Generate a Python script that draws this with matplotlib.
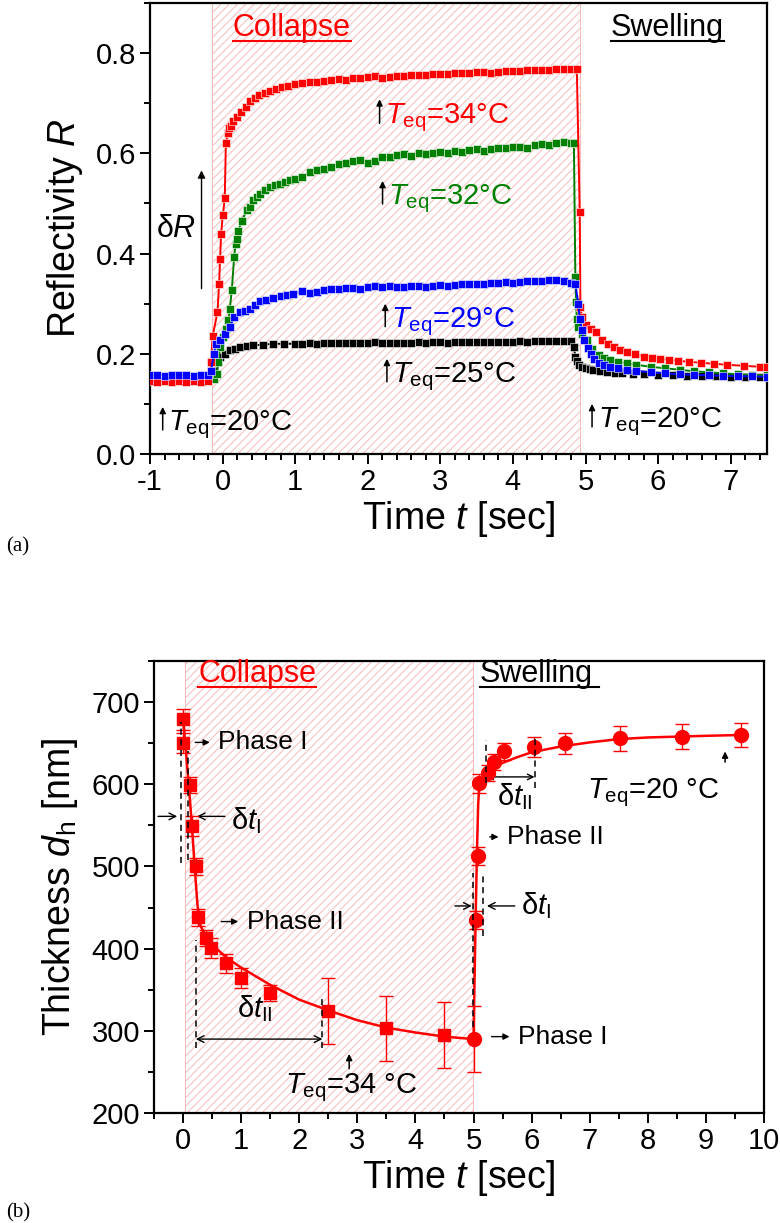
import numpy as np
import matplotlib.pyplot as plt
from matplotlib.lines import Line2D
from matplotlib.ticker import MultipleLocator

plt.rcParams['font.family'] = ['Liberation Sans', 'DejaVu Sans']
plt.rcParams['mathtext.fontset'] = 'custom'
plt.rcParams['mathtext.rm'] = 'Liberation Sans'
plt.rcParams['mathtext.it'] = 'Liberation Sans:italic'
plt.rcParams['axes.unicode_minus'] = False
plt.rcParams['hatch.linewidth'] = 0.7

# ---------------- panel (a): reflectivity ----------------
t_pre = [-1.0, -0.9, -0.8, -0.7, -0.6, -0.5, -0.4, -0.3, -0.2]
t_plat = [1.1, 1.2, 1.3, 1.4, 1.5, 1.6, 1.7, 1.8, 1.9, 2.0,
          2.1, 2.2, 2.3, 2.4, 2.5, 2.6, 2.7, 2.8, 2.9, 3.0,
          3.1, 3.2, 3.3, 3.4, 3.5, 3.6, 3.7, 3.8, 3.9, 4.0,
          4.1, 4.2, 4.3, 4.4, 4.5, 4.6, 4.7, 4.8]

# 34 C (red)
red_pre = [0.145, 0.144, 0.145, 0.144, 0.145, 0.144, 0.145, 0.144, 0.145]
red_rise_t = [-0.16, -0.136, -0.07, -0.048, -0.034, -0.02, 0.003, 0.03, 0.045, 0.07, 0.09, 0.11,
              0.15, 0.2, 0.26, 0.32, 0.38, 0.44, 0.5, 0.58, 0.66, 0.74, 0.82, 0.9, 1.0]
red_rise = [0.184, 0.236, 0.283, 0.34, 0.39, 0.44, 0.476, 0.51, 0.62, 0.64, 0.65, 0.655,
            0.664, 0.672, 0.682, 0.693, 0.705, 0.71, 0.716, 0.72, 0.725, 0.728, 0.732, 0.735, 0.738]
red_plat = [0.740, 0.743, 0.742, 0.745, 0.746, 0.748, 0.747, 0.750, 0.750, 0.752,
            0.754, 0.751, 0.753, 0.755, 0.755, 0.756, 0.757, 0.756, 0.758, 0.759,
            0.759, 0.760, 0.760, 0.761, 0.762, 0.762, 0.761, 0.763, 0.764, 0.764,
            0.765, 0.766, 0.766, 0.767, 0.767, 0.768, 0.768, 0.769]
red_drop_t = [4.88, 4.92, 4.93, 4.95, 5.0, 5.07, 5.14, 5.23, 5.31, 5.39, 5.48, 5.57, 5.68, 5.8,
              5.91, 6.03, 6.15, 6.27, 6.43, 6.59, 6.77, 6.95, 7.18, 7.41, 7.5]
red_drop = [0.769, 0.483, 0.293, 0.273, 0.257, 0.25, 0.244, 0.227, 0.22, 0.214, 0.208, 0.204, 0.199, 0.194,
            0.192, 0.19, 0.188, 0.186, 0.184, 0.182, 0.18, 0.178, 0.176, 0.174, 0.173]

# 32 C (green)
green_pre = [0.150, 0.150, 0.149, 0.150, 0.150, 0.149, 0.150, 0.150, 0.150]
green_rise_t = [-0.12, -0.08, -0.058, -0.034, 0.003, 0.048, 0.08, 0.10, 0.127, 0.159, 0.18, 0.195, 0.218,
                0.265, 0.334, 0.38, 0.425, 0.47, 0.517, 0.58, 0.655, 0.72, 0.79, 0.86, 0.93, 1.0]
green_rise = [0.15, 0.16, 0.184, 0.214, 0.234, 0.25, 0.267, 0.29, 0.327, 0.393, 0.42, 0.43, 0.446,
              0.466, 0.486, 0.493, 0.506, 0.512, 0.519, 0.526, 0.532, 0.536, 0.539, 0.542, 0.546, 0.548]
green_plat = [0.552, 0.563, 0.566, 0.569, 0.572, 0.578, 0.581, 0.585, 0.586, 0.581,
              0.585, 0.593, 0.592, 0.596, 0.598, 0.595, 0.600, 0.598, 0.601, 0.602,
              0.600, 0.604, 0.603, 0.607, 0.608, 0.605, 0.609, 0.611, 0.610, 0.612,
              0.613, 0.611, 0.616, 0.618, 0.617, 0.621, 0.622, 0.620]
green_drop_t = [4.84, 4.86, 4.87, 4.88, 4.9, 4.95, 5.02, 5.09, 5.18, 5.26, 5.34, 5.45, 5.57, 5.7,
                5.9, 6.1, 6.3, 6.5, 6.7, 6.9, 7.1, 7.3, 7.5]
green_drop = [0.621, 0.353, 0.303, 0.27, 0.254, 0.239, 0.227, 0.21, 0.197, 0.192, 0.187, 0.184, 0.181, 0.178,
              0.174, 0.171, 0.168, 0.165, 0.163, 0.161, 0.159, 0.158, 0.157]

# 29 C (blue)
blue_pre = [0.157, 0.157, 0.156, 0.157, 0.157, 0.157, 0.156, 0.157, 0.157]
blue_rise_t = [-0.16, -0.12, -0.09, -0.034, 0.034, 0.1, 0.163, 0.24, 0.31, 0.38, 0.45, 0.517,
               0.6, 0.7, 0.8, 0.885, 0.97]
blue_rise = [0.165, 0.2, 0.22, 0.227, 0.24, 0.254, 0.273, 0.283, 0.286, 0.29, 0.298, 0.305,
             0.308, 0.312, 0.315, 0.318, 0.32]
blue_plat = [0.325, 0.322, 0.324, 0.327, 0.330, 0.329, 0.331, 0.332, 0.330, 0.333,
             0.335, 0.334, 0.335, 0.333, 0.333, 0.335, 0.336, 0.334, 0.336, 0.337,
             0.336, 0.338, 0.339, 0.340, 0.340, 0.339, 0.341, 0.342, 0.343, 0.342,
             0.344, 0.345, 0.346, 0.346, 0.347, 0.347, 0.345, 0.342]
blue_drop_t = [4.86, 4.9, 4.92, 4.95, 4.98, 5.03, 5.07, 5.12, 5.18, 5.26, 5.34, 5.45, 5.57, 5.7,
               5.9, 6.1, 6.3, 6.5, 6.7, 6.9, 7.1, 7.3, 7.5]
blue_drop = [0.34, 0.3, 0.27, 0.247, 0.227, 0.212, 0.2, 0.19, 0.181, 0.177, 0.174, 0.171, 0.168, 0.166,
             0.163, 0.161, 0.159, 0.158, 0.157, 0.156, 0.155, 0.155, 0.154]

# 25 C (black)
black_pre = [0.151, 0.151, 0.150, 0.151, 0.151, 0.150, 0.151, 0.151, 0.151]
black_rise_t = [-0.16, -0.12, -0.08, -0.034, 0.034, 0.1, 0.17, 0.24, 0.33, 0.425, 0.55, 0.7, 0.85, 1.0]
black_rise = [0.155, 0.165, 0.184, 0.194, 0.2, 0.207, 0.21, 0.214, 0.215, 0.217, 0.218, 0.22, 0.22, 0.22]
black_plat = [0.220, 0.221, 0.220, 0.221, 0.221, 0.222, 0.221, 0.221, 0.222, 0.222,
              0.223, 0.222, 0.222, 0.221, 0.222, 0.222, 0.223, 0.222, 0.223, 0.223,
              0.222, 0.223, 0.224, 0.223, 0.223, 0.224, 0.224, 0.223, 0.224, 0.224,
              0.225, 0.224, 0.225, 0.225, 0.225, 0.226, 0.225, 0.226]
black_drop_t = [4.84, 4.86, 4.88, 4.91, 4.95, 5.0, 5.06, 5.11, 5.2, 5.3, 5.4, 5.5, 5.65, 5.8,
                6.0, 6.2, 6.4, 6.6, 6.8, 7.0, 7.2, 7.4, 7.5]
black_drop = [0.214, 0.194, 0.185, 0.178, 0.174, 0.171, 0.169, 0.167, 0.165, 0.164, 0.162, 0.161, 0.16, 0.159,
              0.158, 0.157, 0.156, 0.155, 0.155, 0.154, 0.154, 0.153, 0.153]

# ---------------- panel (b): thickness ----------------
t_col = [0.0, 0.0, 0.12, 0.16, 0.22, 0.25, 0.40, 0.49, 0.74, 1.0, 1.49, 2.49, 3.5, 4.5]
d_col = [679, 650, 599, 549, 500, 438, 413, 401, 382, 364, 346, 324, 303, 295]
e_col = [13, 12, 10, 12, 10, 10, 10, 12, 12, 12, 10, 40, 40, 40]

t_sw = [5.0, 5.05, 5.07, 5.1, 5.25, 5.36, 5.52, 6.04, 6.58, 7.52, 8.58, 9.6]
d_sw = [290, 435, 513, 601, 614, 627, 640, 645, 650, 656, 658, 660]
e_sw = [40, 11, 11, 12, 10, 10, 10, 12, 13, 15, 15, 14]

fit_t_col = [0.0, 0.05, 0.1, 0.15, 0.2, 0.25, 0.3, 0.4, 0.5, 0.75, 1.0, 1.5, 2.0, 2.5, 3.0, 3.5, 4.0, 4.5, 5.0]
fit_d_col = [680, 640, 598, 553, 500, 452, 428, 414, 405, 389, 377, 356, 338, 325, 313, 304, 298, 293, 290]
fit_t_sw = [5.0, 5.02, 5.04, 5.06, 5.08, 5.1, 5.15, 5.2, 5.3, 5.4, 5.5, 5.75, 6.0, 6.5, 7.0, 7.5, 8.0, 8.5, 9.0, 9.6]
fit_d_sw = [290, 370, 450, 520, 575, 600, 607, 611, 617, 622, 626, 633, 639, 646, 651, 655, 657, 658, 659, 660]

RED = '#ff0000'
GREEN = '#008000'
BLUE = '#0000ff'
HATCH = '#f5bcbc'

fig = plt.figure(figsize=(7.8, 12.23), dpi=100)
ax1 = fig.add_axes([0.1923, 0.6288, 0.7910, 0.3687])
ax2 = fig.add_axes([0.1974, 0.0899, 0.7821, 0.3696])


def style_axes(ax):
    for s in ax.spines.values():
        s.set_linewidth(1.6)
    ax.tick_params(which='both', direction='out', width=1.4, labelsize=21, top=False, right=False)
    ax.tick_params(which='major', length=7, pad=3)
    ax.tick_params(which='minor', length=4)


def teq(ax, x, y, label, color, dy, fs=21):
    ax.annotate('', xy=(x, y + dy), xytext=(x, y),
                arrowprops=dict(arrowstyle='-|>', color='k', lw=1.1, mutation_scale=9, shrinkA=0, shrinkB=0))
    ax.annotate(label, xy=(x, y), xytext=(4, 0), textcoords='offset points',
                color=color, fontsize=fs, ha='left', va='baseline')


def arrow(ax, x0, x1, y, style='->', ms=12):
    ax.annotate('', xy=(x1, y), xytext=(x0, y),
                arrowprops=dict(arrowstyle=style, color='k', lw=1.0, mutation_scale=ms, shrinkA=0, shrinkB=0))


# ----- panel (a)
ax1.axvspan(-0.15, 4.93, facecolor='none', edgecolor=HATCH, hatch='////', lw=0.8, zorder=0)
curves = [
    (black_pre, black_rise_t, black_rise, black_plat, black_drop_t, black_drop, 'k'),
    (green_pre, green_rise_t, green_rise, green_plat, green_drop_t, green_drop, GREEN),
    (red_pre, red_rise_t, red_rise, red_plat, red_drop_t, red_drop, RED),
    (blue_pre, blue_rise_t, blue_rise, blue_plat, blue_drop_t, blue_drop, BLUE),
]
for pre, rt, rv, pv, dt, dv, c in curves:
    tt = t_pre + rt + t_plat + dt
    rr = pre + rv + pv + dv
    ax1.plot(tt, rr, color=c, lw=1.4, marker='s', ms=6, mec='white', mew=0.4, mfc=c, zorder=3)

ax1.set_xlim(-1, 7.5)
ax1.set_ylim(0, 0.9)
ax1.xaxis.set_major_locator(MultipleLocator(1))
ax1.xaxis.set_minor_locator(MultipleLocator(0.2))
ax1.yaxis.set_major_locator(MultipleLocator(0.2))
ax1.yaxis.set_minor_locator(MultipleLocator(0.1))
style_axes(ax1)
ax1.set_xlabel('Time $t$ [sec]', fontsize=27, labelpad=2)
ax1.set_ylabel('Reflectivity $R$', fontsize=27, labelpad=8)

c1 = ax1.text(0.95, 0.835, 'Collapse', color=RED, fontsize=22, ha='center', va='baseline')
s1 = ax1.text(6.13, 0.835, 'Swelling', color='k', fontsize=22, ha='center', va='baseline')

teq(ax1, 2.163, 0.66, '$T_{\\mathrm{eq}}$=34°C', RED, 0.048)
teq(ax1, 2.204, 0.499, '$T_{\\mathrm{eq}}$=32°C', GREEN, 0.046)
teq(ax1, 2.241, 0.254, '$T_{\\mathrm{eq}}$=29°C', BLUE, 0.046)
teq(ax1, 2.264, 0.144, '$T_{\\mathrm{eq}}$=25°C', 'k', 0.046)
teq(ax1, -0.825, 0.048, '$T_{\\mathrm{eq}}$=20°C', 'k', 0.046)
teq(ax1, 5.09, 0.054, '$T_{\\mathrm{eq}}$=20°C', 'k', 0.046)

ax1.annotate('', xy=(-0.29, 0.566), xytext=(-0.29, 0.33),
             arrowprops=dict(arrowstyle='-|>', color='k', lw=1.0, mutation_scale=11, shrinkA=0, shrinkB=0))
ax1.text(-0.64, 0.45, 'δ$R$', fontsize=22, ha='center', va='center')

# ----- panel (b)
ax2.axvspan(0.03, 4.99, ymax=1, facecolor='none', edgecolor=HATCH, hatch='////', lw=0.8, zorder=0)
ax2.plot(fit_t_col, fit_d_col, color=RED, lw=1.8, zorder=3)
ax2.plot(fit_t_sw, fit_d_sw, color=RED, lw=1.8, zorder=3)
ax2.errorbar(t_col, d_col, yerr=e_col, fmt='s', color=RED, ms=8.5, capsize=5, elinewidth=1.0,
             capthick=1.0, zorder=4)
ax2.errorbar(t_sw, d_sw, yerr=e_sw, fmt='o', color=RED, ms=10, capsize=5, elinewidth=1.0,
             capthick=1.0, zorder=4)

ax2.set_xlim(-0.5, 10)
ax2.set_ylim(200, 750)
ax2.xaxis.set_major_locator(MultipleLocator(1))
ax2.xaxis.set_minor_locator(MultipleLocator(0.5))
ax2.yaxis.set_major_locator(MultipleLocator(100))
ax2.yaxis.set_minor_locator(MultipleLocator(50))
style_axes(ax2)
ax2.set_xlabel('Time $t$ [sec]', fontsize=27, labelpad=2)
ax2.set_ylabel('Thickness $d_{\\mathrm{h}}$ [nm]', fontsize=27, labelpad=8)

c2 = ax2.text(1.28, 724, 'Collapse', color=RED, fontsize=22, ha='center', va='baseline')
s2 = ax2.text(6.08, 724, 'Swelling', color='k', fontsize=22, ha='center', va='baseline')

# dashed guides
dash = dict(color='k', lw=1.1, ls=(0, (4, 3)), zorder=5)
ax2.plot([-0.04, -0.04], [504, 676], **dash)
ax2.plot([0.09, 0.09], [508, 641], **dash)
ax2.plot([0.22, 0.22], [279, 410], **dash)
ax2.plot([2.4, 2.4], [279, 339], **dash)
ax2.plot([4.99, 4.99], [305, 492], **dash)
ax2.plot([5.16, 5.16], [415, 492], **dash)
ax2.plot([5.22, 5.22], [601, 654], **dash)
ax2.plot([6.05, 6.05], [595, 658], **dash)

# delta t arrows
arrow(ax2, -0.43, -0.10, 561)
arrow(ax2, 0.72, 0.24, 561)
ax2.text(0.82, 556, 'δ$t_{\\mathrm{I}}$', fontsize=21, ha='left', va='center')
arrow(ax2, 0.22, 2.4, 290, style='<->')
ax2.text(1.23, 327, 'δ$t_{\\mathrm{II}}$', fontsize=21, ha='center', va='center')
arrow(ax2, 4.68, 4.97, 452)
arrow(ax2, 5.71, 5.23, 452)
ax2.text(5.81, 452, 'δ$t_{\\mathrm{I}}$', fontsize=21, ha='left', va='center')
arrow(ax2, 5.22, 6.05, 609, style='<->', ms=10)
ax2.text(5.71, 585, 'δ$t_{\\mathrm{II}}$', fontsize=21, ha='center', va='center')

# phase labels
for x0, x1, y, lab in [(0.21, 0.46, 651, 'Phase I'), (0.66, 0.95, 433, 'Phase II'),
                       (5.28, 5.43, 536, 'Phase II'), (5.31, 5.62, 293, 'Phase I')]:
    arrow(ax2, x0, x1, y, style='-|>', ms=9)
    ax2.annotate(lab, xy=(x1, y), xytext=(6, 0), textcoords='offset points',
                 fontsize=19, ha='left', va='center')

teq(ax2, 2.86, 254, '', 'k', 18)
ax2.text(1.755, 224, '$T_{\\mathrm{eq}}$=34 °C', fontsize=21, ha='left', va='baseline')
teq(ax2, 9.33, 627, '', 'k', 13)
ax2.text(6.95, 583, '$T_{\\mathrm{eq}}$=20 °C', fontsize=21, ha='left', va='baseline')

fig.text(0.008, 0.553, '(a)', fontsize=15, family='Liberation Serif', ha='left', va='center')
fig.text(0.008, 0.008, '(b)', fontsize=15, family='Liberation Serif', ha='left', va='center')

# underline the phase titles
fig.canvas.draw()
inv = fig.transFigure.inverted()
for txt, col, extra in [(c1, RED, 0), (s1, 'k', 0), (c2, RED, 0), (s2, 'k', 6)]:
    bb = txt.get_window_extent()
    (x0, y0), (x1, _) = inv.transform([(bb.x0, bb.y0 + 2), (bb.x1 + extra, bb.y0 + 2)])
    fig.add_artist(Line2D([x0, x1], [y0, y0], color=col, lw=1.5, transform=fig.transFigure))

fig.savefig('out.png', dpi=100)
